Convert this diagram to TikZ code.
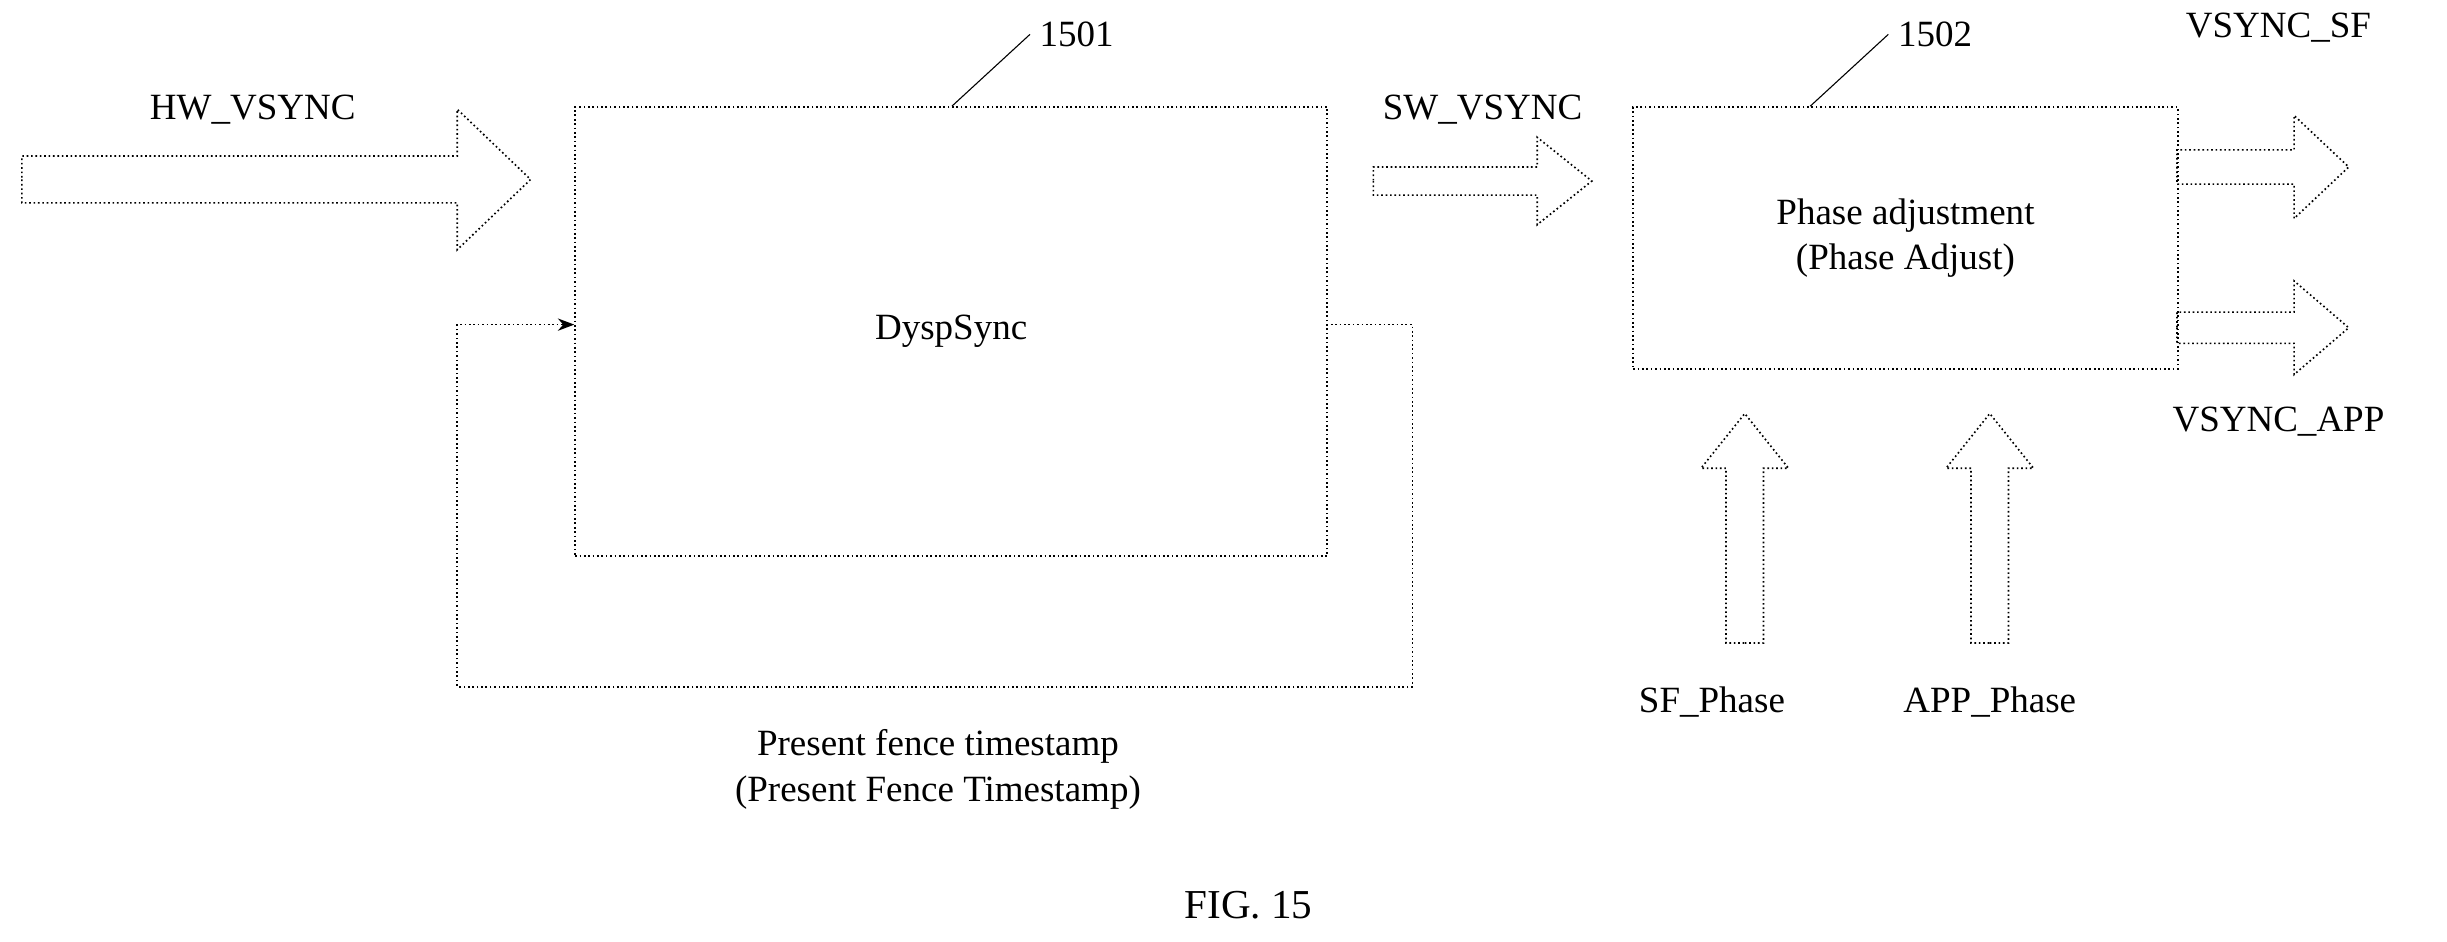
\documentclass[tikz,border=0pt]{standalone}
\usepackage{fontspec}
\setmainfont{Liberation Serif}
\usetikzlibrary{arrows.meta}
% hollow block arrow: start point, length, shaft half width, head half width, head length
\newcommand{\blockarrow}[6][]{%
  \draw[blk,#1] (#2) -- ++(0,#4) -- ++(#3-#6,0) -- ++(0,#5-#4) -- ++(#6,-#5)
    -- ++(-#6,-#5) -- ++(0,#5-#4) -- ++(#6-#3,0) -- cycle;}
\begin{document}
\begin{tikzpicture}[x=0.02cm,y=-0.02cm,font=\fontsize{13.5}{16.5}\selectfont,
  blk/.style={densely dotted,line width=0.6pt},
  box/.style={draw,densely dotted,line width=0.6pt,minimum width=#1,anchor=north west},
  lbl/.style={align=center}]
\useasboundingbox (0,0) rectangle (1568,603);
% blocks
\node[box,minimum width=9.64cm,minimum height=5.76cm] (sync) at (368,68) {};
\node at (sync.center) {DyspSync};
\node[box,minimum width=6.98cm,minimum height=3.36cm] (phase) at (1046,68) {};
\node[lbl] at (phase.center) {Phase adjustment\\(Phase Adjust)};
% reference numbers
\coordinate (r1) at (610,68);
\node[anchor=west] (n1501) at (660,22) {1501};
\draw (r1) -- (n1501.west);
\coordinate (r2) at (1160,68);
\node[anchor=west] (n1502) at (1210,22) {1502};
\draw (r2) -- (n1502.west);
% feedback loop
\coordinate (fb1) at (850,208);
\coordinate (fb2) at (368,208);
\draw[blk,-{Stealth[length=6pt]}] (fb1) -- (905,208) -- (905,440) -- (293,440) -- (293,208) -- (fb2);
\node[lbl] (fence) at (601,493) {Present fence timestamp\\(Present Fence Timestamp)};
% block arrows
\blockarrow{14,115}{326}{15}{45}{47}
\node (hw) at (162,70) {HW\_VSYNC};
\blockarrow{880,116}{140}{9}{28}{35}
\node (sw) at (950,70) {SW\_VSYNC};
\blockarrow{1395,107}{110}{11}{33}{35}
\node (vsf) at (1460,18) {VSYNC\_SF};
\blockarrow{1395,210}{110}{10}{30}{35}
\node (vapp) at (1460,270) {VSYNC\_APP};
\blockarrow[rotate around={90:(1118,412)}]{1118,412}{147}{12}{28}{35}
\node (sfp) at (1097,450) {SF\_Phase};
\blockarrow[rotate around={90:(1275,412)}]{1275,412}{147}{12}{28}{35}
\node (appp) at (1275,450) {APP\_Phase};
\node[font=\fontsize{15}{18}\selectfont] (fig) at (800,580) {FIG. 15};
\end{tikzpicture}
\end{document}
